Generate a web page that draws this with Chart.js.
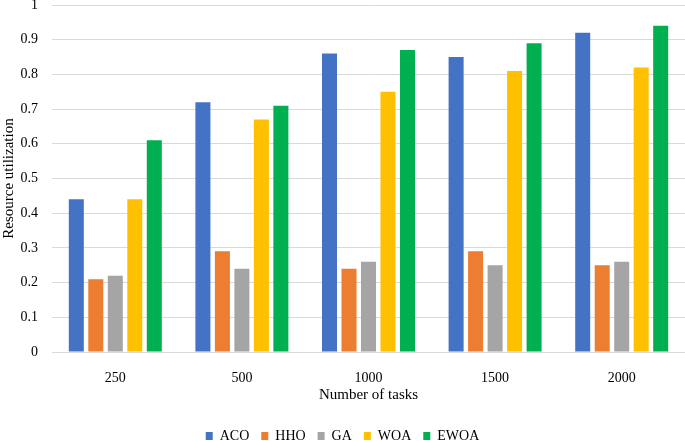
<!DOCTYPE html>
<html><head><meta charset="utf-8">
<script src="https://cdn.jsdelivr.net/npm/chart.js"></script>
<style>html,body{margin:0;padding:0;background:#fff}#w{width:685px;height:441px}</style>
</head><body><div id="w"><canvas id="c"></canvas></div>
<script>
const categories = ['250','500','1000','1500','2000'];
const ACO  = [0.44,0.72,0.86,0.85,0.92];
const HHO  = [0.21,0.29,0.24,0.29,0.25];
const GA   = [0.22,0.24,0.26,0.25,0.26];
const WOA  = [0.44,0.67,0.75,0.81,0.82];
const EWOA = [0.61,0.71,0.87,0.89,0.94];
const names = ['ACO','HHO','GA','WOA','EWOA'];
const colors = ['#4472C4','#ED7D31','#A5A5A5','#FFC000','#00B050'];
const series = [ACO,HHO,GA,WOA,EWOA];
const font = "'Liberation Serif', 'Times New Roman', serif";
new Chart(document.getElementById('c'),{
  type:'bar',
  data:{labels:categories,datasets:series.map((d,i)=>({label:names[i],data:d,backgroundColor:colors[i],barPercentage:0.77,categoryPercentage:0.77}))},
  options:{
    responsive:true,maintainAspectRatio:false,animation:false,
    layout:{padding:{top:0,right:0,left:0,bottom:-12}},
    plugins:{legend:{position:'bottom',labels:{font:{family:font,size:14},color:'#000',boxWidth:7,boxHeight:8,padding:12}},tooltip:{enabled:false}},
    scales:{
      x:{grid:{display:false},border:{display:false},ticks:{font:{family:font,size:14},color:'#000',padding:10},
         title:{display:true,text:'Number of tasks',font:{family:font,size:15},color:'#000',padding:{top:0,bottom:13}},
         afterFit:(s)=>{s.height=65;}},
      y:{min:0,max:1,ticks:{stepSize:0.1,font:{family:font,size:14},color:'#000',padding:14,
           callback:(v)=>String(Number(v.toFixed(1)))},
         grid:{color:'#d9d9d9',drawTicks:false,lineWidth:1},border:{display:false},
         title:{display:true,text:'Resource utilization',font:{family:font,size:15},color:'#000',padding:{top:0,bottom:0}},
         afterFit:(s)=>{s.width=52;s.paddingTop=5;}}
    }
  }
});
</script></body></html>
